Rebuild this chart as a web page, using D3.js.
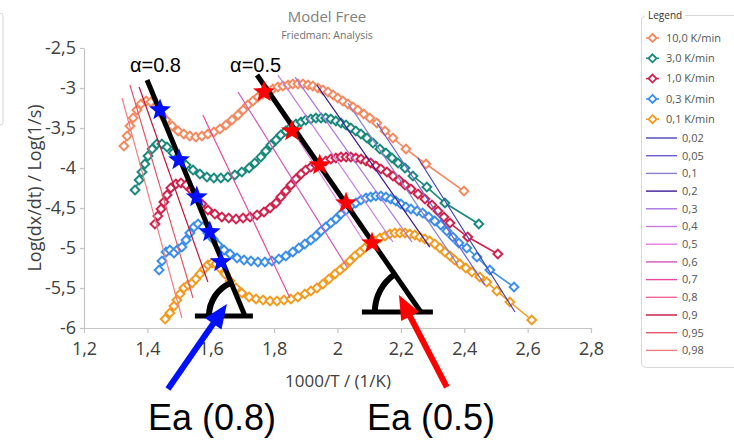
<!DOCTYPE html>
<html>
<head>
<meta charset="utf-8">
<script src="https://cdn.jsdelivr.net/npm/d3@7"></script>
<style>
  html, body { margin: 0; padding: 0; background: #fff; }
  svg { display: block; }
</style>
</head>
<body>
<div id="chart"></div>
<script>
// Friedman iso-conversional plot: log rate vs 1000/T for five heating rates,
// with the iso-conversion fit lines and the hand-drawn Ea annotations on top.

// ---- data ----
const X_TICKS = [1.2, 1.4, 1.6, 1.8, 2.0, 2.2, 2.4, 2.6, 2.8];
const Y_TICKS = [-6, -5.5, -5, -4.5, -4, -3.5, -3, -2.5];

const RATE_LABELS = ["10,0 K/min", "3,0 K/min", "1,0 K/min", "0,3 K/min", "0,1 K/min"];

const rate10 = [[1.326,-3.725],[1.336,-3.6],[1.345,-3.475],[1.355,-3.375],[1.367,-3.275],[1.380,-3.2],[1.396,-3.163],[1.411,-3.175],[1.427,-3.238],[1.443,-3.325],[1.459,-3.4],[1.478,-3.475],[1.497,-3.538],[1.515,-3.575],[1.534,-3.6],[1.553,-3.613],[1.572,-3.6],[1.591,-3.575],[1.610,-3.55],[1.629,-3.513],[1.648,-3.463],[1.667,-3.4],[1.686,-3.338],[1.702,-3.275],[1.717,-3.213],[1.733,-3.163],[1.749,-3.113],[1.765,-3.075],[1.780,-3.038],[1.796,-3.013],[1.812,-2.988],[1.828,-2.975],[1.844,-2.963],[1.859,-2.95],[1.875,-2.95],[1.891,-2.95],[1.907,-2.963],[1.922,-2.975],[1.938,-3.0],[1.954,-3.025],[1.970,-3.05],[1.986,-3.088],[2.001,-3.125],[2.017,-3.163],[2.033,-3.2],[2.049,-3.238],[2.064,-3.275],[2.083,-3.325],[2.102,-3.375],[2.124,-3.438],[2.150,-3.538],[2.175,-3.625],[2.216,-3.763],[2.279,-3.95],[2.399,-4.288]];

const rate3 = [[1.361,-4.275],[1.374,-4.15],[1.383,-4.05],[1.392,-3.95],[1.402,-3.85],[1.415,-3.763],[1.430,-3.7],[1.446,-3.7],[1.462,-3.738],[1.481,-3.813],[1.500,-3.888],[1.522,-3.963],[1.544,-4.025],[1.566,-4.075],[1.588,-4.113],[1.610,-4.125],[1.632,-4.125],[1.654,-4.113],[1.676,-4.088],[1.698,-4.05],[1.721,-4.0],[1.739,-3.938],[1.758,-3.863],[1.774,-3.788],[1.790,-3.713],[1.806,-3.65],[1.821,-3.588],[1.837,-3.538],[1.853,-3.488],[1.869,-3.45],[1.885,-3.425],[1.900,-3.4],[1.916,-3.388],[1.932,-3.375],[1.948,-3.375],[1.963,-3.375],[1.979,-3.388],[1.995,-3.413],[2.011,-3.438],[2.027,-3.463],[2.042,-3.5],[2.058,-3.538],[2.074,-3.575],[2.093,-3.625],[2.112,-3.688],[2.134,-3.763],[2.153,-3.813],[2.172,-3.875],[2.191,-3.938],[2.213,-4.0],[2.238,-4.1],[2.282,-4.238],[2.339,-4.438],[2.446,-4.7]];

const rate1 = [[1.424,-4.7],[1.433,-4.6],[1.443,-4.513],[1.452,-4.425],[1.462,-4.338],[1.474,-4.25],[1.490,-4.2],[1.506,-4.188],[1.522,-4.213],[1.538,-4.275],[1.553,-4.363],[1.572,-4.45],[1.591,-4.525],[1.613,-4.575],[1.635,-4.613],[1.657,-4.625],[1.680,-4.638],[1.702,-4.625],[1.724,-4.613],[1.746,-4.588],[1.768,-4.55],[1.787,-4.5],[1.806,-4.438],[1.821,-4.363],[1.837,-4.288],[1.853,-4.213],[1.869,-4.138],[1.885,-4.075],[1.900,-4.025],[1.916,-3.988],[1.932,-3.963],[1.948,-3.938],[1.963,-3.913],[1.979,-3.888],[1.995,-3.875],[2.011,-3.863],[2.027,-3.863],[2.042,-3.863],[2.058,-3.875],[2.074,-3.888],[2.090,-3.913],[2.105,-3.938],[2.121,-3.975],[2.137,-4.013],[2.156,-4.05],[2.175,-4.1],[2.194,-4.15],[2.213,-4.213],[2.232,-4.263],[2.254,-4.325],[2.276,-4.388],[2.298,-4.463],[2.317,-4.538],[2.336,-4.613],[2.355,-4.688],[2.411,-4.863],[2.506,-5.075]];

const rate03 = [[1.437,-5.275],[1.446,-5.163],[1.459,-5.05],[1.471,-5.025],[1.484,-5.063],[1.497,-5.013],[1.509,-4.988],[1.522,-4.9],[1.534,-4.813],[1.547,-4.738],[1.560,-4.7],[1.575,-4.738],[1.591,-4.813],[1.607,-4.888],[1.623,-4.963],[1.642,-5.025],[1.661,-5.075],[1.683,-5.125],[1.705,-5.15],[1.727,-5.163],[1.749,-5.175],[1.771,-5.175],[1.793,-5.163],[1.815,-5.138],[1.837,-5.1],[1.859,-5.05],[1.878,-5.0],[1.897,-4.95],[1.916,-4.9],[1.932,-4.85],[1.948,-4.788],[1.963,-4.738],[1.979,-4.688],[1.995,-4.638],[2.011,-4.575],[2.027,-4.525],[2.042,-4.475],[2.058,-4.438],[2.074,-4.4],[2.090,-4.375],[2.105,-4.363],[2.121,-4.35],[2.137,-4.35],[2.153,-4.363],[2.168,-4.388],[2.184,-4.413],[2.200,-4.45],[2.216,-4.488],[2.232,-4.513],[2.251,-4.538],[2.269,-4.563],[2.288,-4.613],[2.307,-4.663],[2.326,-4.713],[2.345,-4.788],[2.364,-4.863],[2.383,-4.938],[2.408,-5.0],[2.440,-5.113],[2.481,-5.275],[2.557,-5.488]];

const rate01 = [[1.456,-5.888],[1.471,-5.813],[1.484,-5.725],[1.493,-5.65],[1.503,-5.575],[1.515,-5.5],[1.528,-5.463],[1.541,-5.438],[1.553,-5.388],[1.566,-5.325],[1.579,-5.263],[1.591,-5.213],[1.604,-5.188],[1.616,-5.2],[1.629,-5.25],[1.645,-5.325],[1.661,-5.413],[1.680,-5.5],[1.698,-5.563],[1.721,-5.613],[1.743,-5.638],[1.765,-5.65],[1.787,-5.663],[1.809,-5.663],[1.831,-5.65],[1.853,-5.638],[1.875,-5.613],[1.897,-5.575],[1.916,-5.538],[1.935,-5.5],[1.954,-5.45],[1.973,-5.388],[1.992,-5.325],[2.008,-5.275],[2.023,-5.225],[2.039,-5.163],[2.055,-5.1],[2.071,-5.05],[2.086,-5.0],[2.102,-4.95],[2.118,-4.913],[2.134,-4.875],[2.150,-4.85],[2.165,-4.825],[2.181,-4.813],[2.197,-4.813],[2.213,-4.813],[2.228,-4.825],[2.244,-4.838],[2.260,-4.863],[2.276,-4.888],[2.291,-4.913],[2.307,-4.95],[2.323,-5.0],[2.339,-5.05],[2.355,-5.1],[2.370,-5.15],[2.386,-5.2],[2.405,-5.25],[2.424,-5.3],[2.449,-5.363],[2.471,-5.425],[2.503,-5.538],[2.544,-5.675],[2.613,-5.9]];

// iso-conversion fit lines: [start, end] in (1000/T, log rate)
const ISO_LABELS = ["0,02", "0,05", "0,1", "0,2", "0,3", "0,4", "0,5", "0,6", "0,7", "0,8", "0,9", "0,95", "0,98"];
const isoLines = [
  [[2.254,-3.875],[2.560,-5.8]],
  [[2.124,-3.438],[2.465,-5.463]],
  [[2.033,-3.188],[2.380,-5.213]],
  [[1.935,-2.963],[2.291,-4.988]],
  [[1.866,-2.863],[2.235,-4.925]],
  [[1.812,-2.838],[2.175,-4.925]],
  [[1.765,-2.963],[2.080,-4.9]],
  [[1.686,-3.05],[2.030,-5.238]],
  [[1.575,-3.338],[1.850,-5.625]],
  [[1.424,-3.15],[1.676,-5.525]],
  [[1.374,-2.988],[1.591,-5.425]],
  [[1.345,-2.963],[1.544,-5.625]],
  [[1.320,-3.125],[1.509,-5.875]]
];

// hand-drawn annotations
const starsA08 = [[1.440,-3.275],[1.500,-3.9],[1.556,-4.363],[1.597,-4.8],[1.632,-5.175]];
const starsA05 = [[1.768,-3.05],[1.856,-3.538],[1.944,-3.963],[2.027,-4.438],[2.109,-4.938]];
const A_LABELS = ["α=0.8", "α=0.5"];
const aLineTop = [[1.399,-2.9],[1.746,-2.838]];
const aLineBottom = [[1.708,-5.85],[2.263,-5.8]];
const aBarX = [[1.550,1.733],[2.077,2.301]];
const aLabelAt = [[1.345,-2.8],[1.661,-2.8]];
const EA_LABELS = ["Ea (0.8)", "Ea (0.5)"];
const eaArrowTail = [[1.465,-6.763],[2.345,-6.738]];
const eaArrowTip = [[1.651,-5.7],[2.194,-5.588]];
const eaLabelAt = [[1.402,-7.275],[2.093,-7.275]];

// ---- styles ----
const RATE_COLORS = ["#F5895F", "#178A7C", "#D2224E", "#3A8EEC", "#F39B20"];
const ISO_COLORS = ["#4545B5", "#6B5BD0", "#8A80CC", "#3C1A96", "#A672E6", "#C77AE0",
                    "#E67AE6", "#D455B8", "#E84A9C", "#F26A96", "#C4123E", "#E3586A", "#F28088"];
const UI_FONT = "'Open Sans', 'Noto Sans', sans-serif";
const ANNO_FONT = "'Liberation Sans', Arial, sans-serif";
const AXIS_GREY = "#c4c4c4";
const TEXT_DARK = "#404040";

const W = 734, H = 441;
const svg = d3.select("#chart").append("svg")
  .attr("width", W).attr("height", H)
  .style("background", "#fff");

const x = d3.scaleLinear().domain([1.2, 2.8]).range([84, 591]);
const y = d3.scaleLinear().domain([-6, -2.5]).range([328, 48]);
const fmt = d => String(d).replace(".", ",");

// edge of a neighbouring panel peeking in on the left
svg.append("rect")
  .attr("x", -8).attr("y", 13).attr("width", 11).attr("height", 112)
  .attr("rx", 3).attr("fill", "none").attr("stroke", "#d6d6d6");

// titles
svg.append("text")
  .attr("x", 327).attr("y", 22).attr("text-anchor", "middle")
  .attr("font-family", UI_FONT).attr("font-size", "15px").attr("fill", "#808080")
  .text("Model Free");
svg.append("text")
  .attr("x", 327).attr("y", 39).attr("text-anchor", "middle")
  .attr("font-family", UI_FONT).attr("font-size", "10.5px").attr("fill", "#707070")
  .text("Friedman: Analysis");

// axes
const xAxis = svg.append("g")
  .attr("transform", `translate(0,${y(-6)})`)
  .call(d3.axisBottom(x).tickValues(X_TICKS).tickFormat(fmt)
    .tickSize(5).tickSizeOuter(0).tickPadding(9));
const yAxis = svg.append("g")
  .attr("transform", `translate(${x(1.2)},0)`)
  .call(d3.axisLeft(y).tickValues(Y_TICKS).tickFormat(fmt)
    .tickSize(4).tickSizeOuter(0).tickPadding(4));

[xAxis, yAxis].forEach(g => {
  g.select(".domain").attr("stroke", AXIS_GREY).attr("stroke-width", 1.2);
  g.selectAll(".tick line").attr("stroke", AXIS_GREY).attr("stroke-width", 1.2);
  g.selectAll(".tick text")
    .attr("font-family", UI_FONT).attr("font-size", "18px").attr("fill", TEXT_DARK);
});

svg.append("text")
  .attr("x", 338).attr("y", 387).attr("text-anchor", "middle")
  .attr("font-family", UI_FONT).attr("font-size", "17px").attr("fill", TEXT_DARK)
  .text("1000/T / (1/K)");
svg.append("text")
  .attr("transform", "translate(41,188) rotate(-90)")
  .attr("text-anchor", "middle")
  .attr("font-family", UI_FONT).attr("font-size", "18px").attr("fill", TEXT_DARK)
  .text("Log(dx/dt) / Log(1/s)");

// series
const diamond = r => `M0,${-r}L${r},0L0,${r}L${-r},0Z`;
const line = d3.line().x(d => x(d[0])).y(d => y(d[1]));
const series = [rate10, rate3, rate1, rate03, rate01];

const plot = svg.append("g");
series.forEach((pts, i) => {
  const g = plot.append("g");
  g.append("path")
    .attr("d", line(pts))
    .attr("fill", "none").attr("stroke", RATE_COLORS[i]).attr("stroke-width", 1.6);
  g.selectAll("path.pt").data(pts).join("path")
    .attr("class", "pt")
    .attr("d", diamond(4.4))
    .attr("transform", d => `translate(${x(d[0])},${y(d[1])})`)
    .attr("fill", "#fff").attr("stroke", RATE_COLORS[i]).attr("stroke-width", 2);
});

// iso-conversion lines
plot.selectAll("line.iso").data(isoLines).join("line")
  .attr("class", "iso")
  .attr("x1", d => x(d[0][0])).attr("y1", d => y(d[0][1]))
  .attr("x2", d => x(d[1][0])).attr("y2", d => y(d[1][1]))
  .attr("stroke", (d, i) => ISO_COLORS[i]).attr("stroke-width", 1.2);

// ---- annotations ----
const anno = svg.append("g");
const ARC_R = [36, 46];

aLineTop.forEach((top, i) => {
  const bot = aLineBottom[i];
  const bx = x(bot[0]), by = y(bot[1]);
  const tx = x(top[0]), ty = y(top[1]);

  anno.append("line")
    .attr("x1", tx).attr("y1", ty).attr("x2", bx).attr("y2", by)
    .attr("stroke", "#000").attr("stroke-width", 5);

  anno.append("line")
    .attr("x1", x(aBarX[i][0])).attr("x2", x(aBarX[i][1]))
    .attr("y1", by).attr("y2", by)
    .attr("stroke", "#000").attr("stroke-width", 5);

  const endAngle = Math.atan2(tx - bx, -(ty - by));
  anno.append("path")
    .attr("transform", `translate(${bx},${by})`)
    .attr("d", d3.arc()({
      innerRadius: ARC_R[i] - 3, outerRadius: ARC_R[i] + 3,
      startAngle: -Math.PI / 2, endAngle: endAngle
    }))
    .attr("fill", "#000");

  anno.append("text")
    .attr("x", x(aLabelAt[i][0])).attr("y", y(aLabelAt[i][1]))
    .attr("font-family", ANNO_FONT).attr("font-size", "20px").attr("fill", "#000")
    .text(A_LABELS[i]);
});

function starPath(R) {
  const pts = d3.range(10).map(k => {
    const a = k * Math.PI / 5 - Math.PI / 2;
    const rr = k % 2 ? R * 0.42 : R;
    return [rr * Math.cos(a), rr * Math.sin(a)];
  });
  return d3.line()(pts) + "Z";
}

[[starsA08, "#0010ff"], [starsA05, "#ff0000"]].forEach(([pts, col]) => {
  anno.selectAll(null).data(pts).join("path")
    .attr("d", starPath(11.5))
    .attr("transform", d => `translate(${x(d[0])},${y(d[1])})`)
    .attr("fill", col);
});

const ARROW_COLORS = ["#0010ff", "#ff0000"];
eaArrowTail.forEach((tail, i) => {
  const x0 = x(tail[0]), y0 = y(tail[1]);
  const x1 = x(eaArrowTip[i][0]), y1 = y(eaArrowTip[i][1]);
  const len = Math.hypot(x1 - x0, y1 - y0);
  const ux = (x1 - x0) / len, uy = (y1 - y0) / len;
  const headL = 24, headW = 10;
  const hx = x1 - ux * headL, hy = y1 - uy * headL;
  anno.append("line")
    .attr("x1", x0).attr("y1", y0).attr("x2", hx + ux * 2).attr("y2", hy + uy * 2)
    .attr("stroke", ARROW_COLORS[i]).attr("stroke-width", 6);
  anno.append("path")
    .attr("d", `M${x1},${y1}L${hx - uy * headW},${hy + ux * headW}L${hx + uy * headW},${hy - ux * headW}Z`)
    .attr("fill", ARROW_COLORS[i]);
  anno.append("text")
    .attr("x", x(eaLabelAt[i][0])).attr("y", y(eaLabelAt[i][1]))
    .attr("font-family", ANNO_FONT).attr("font-size", "36px").attr("fill", "#000")
    .text(EA_LABELS[i]);
});

// ---- legend ----
const legend = svg.append("g");
legend.append("rect")
  .attr("x", 641.5).attr("y", 15.5).attr("width", 110).attr("height", 352)
  .attr("rx", 5).attr("fill", "#fff").attr("stroke", "#d8d8d8");
legend.append("rect")
  .attr("x", 645).attr("y", 9).attr("width", 40).attr("height", 12).attr("fill", "#fff");
legend.append("text")
  .attr("x", 648).attr("y", 19)
  .attr("font-family", UI_FONT).attr("font-size", "10px").attr("fill", "#333")
  .text("Legend");

const LEG_FONT = "11px";
RATE_LABELS.forEach((lab, i) => {
  const ly = 38 + i * 20.3;
  legend.append("line")
    .attr("x1", 646).attr("x2", 659).attr("y1", ly).attr("y2", ly)
    .attr("stroke", RATE_COLORS[i]).attr("stroke-width", 1.5);
  legend.append("path")
    .attr("d", diamond(4))
    .attr("transform", `translate(652.5,${ly})`)
    .attr("fill", "#fff").attr("stroke", RATE_COLORS[i]).attr("stroke-width", 1.8);
  legend.append("text")
    .attr("x", 666).attr("y", ly).attr("dy", "0.35em")
    .attr("font-family", UI_FONT).attr("font-size", LEG_FONT).attr("fill", "#555")
    .text(lab);
});

ISO_LABELS.forEach((lab, i) => {
  const ly = 138 + i * 17.7;
  legend.append("line")
    .attr("x1", 646).attr("x2", 677).attr("y1", ly).attr("y2", ly)
    .attr("stroke", ISO_COLORS[i]).attr("stroke-width", 1.4);
  legend.append("text")
    .attr("x", 682).attr("y", ly).attr("dy", "0.35em")
    .attr("font-family", UI_FONT).attr("font-size", LEG_FONT).attr("fill", "#555")
    .text(lab);
});
</script>
</body>
</html>
